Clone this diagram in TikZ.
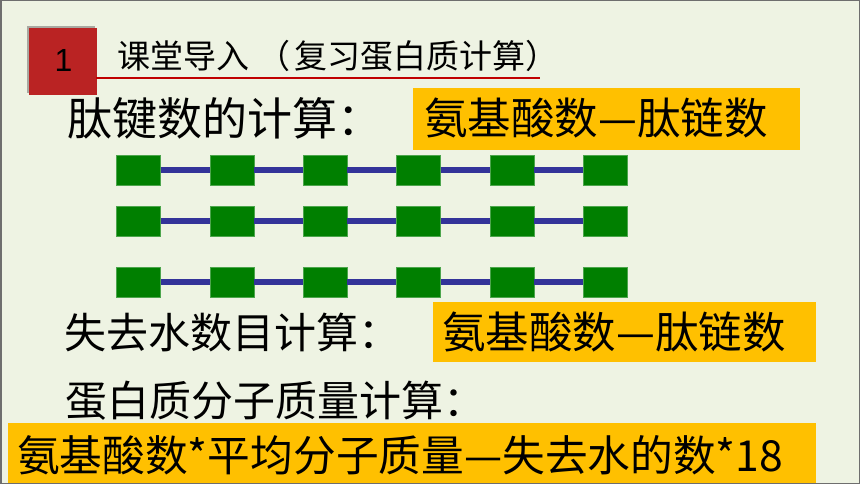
\documentclass[tikz,border=0pt]{standalone}
\usepackage{fontspec}
\setmainfont{Noto Sans CJK SC}
\newfontfamily\latinfont{Liberation Sans}
\definecolor{bgc}{HTML}{EEF3E3}
\definecolor{framec}{HTML}{6E6E6E}
\definecolor{redsq}{HTML}{BA2323}
\definecolor{shadowc}{HTML}{A8A8A0}
\definecolor{uline}{HTML}{C00000}
\definecolor{orangec}{HTML}{FFC000}
\definecolor{greenc}{HTML}{007F00}
\definecolor{bluec}{HTML}{333399}
\tikzset{
  unit/.style={fill=greenc, draw=greenc!70!white, line width=0.4pt, minimum width=44pt, minimum height=30pt, inner sep=0pt},
  bond/.style={draw=bluec, line width=6.5pt},
  orangebox/.style={fill=orangec},
  bodytext/.style={anchor=west, inner sep=0pt, font=\fontsize{42}{46}\selectfont},
  boxtext/.style={anchor=west, inner sep=0pt, font=\fontsize{43.5}{46}\selectfont},
}
\begin{document}
\begin{tikzpicture}[x=1pt,y=-1pt]
\useasboundingbox (0,0) rectangle (860,484);
\fill[bgc] (0,0) rectangle (860,484);
% header
\fill[shadowc] (27,26) rectangle (95,93);
\node[fill=redsq, minimum width=68pt, minimum height=67pt, inner sep=0pt] (num) at (63,61.5) {};
\node[inner sep=0pt, font=\latinfont\fontsize{32}{34}\selectfont] (numtxt) at (63.5,60) {1};
\node[anchor=west, inner sep=0pt, font=\fontsize{33}{36}\selectfont] (title) at (117,56) {课堂导入\hspace{8pt}（\hspace{4pt}复习蛋白质计算）};
\coordinate (ulA) at (96,78);
\coordinate (ulB) at (540,78);
\draw[uline, line width=2.5pt] (ulA) -- (ulB);
% line 1
\node[bodytext, font=\fontsize{45}{50}\selectfont] (l1) at (67,118) {肽键数的计算：};
\node[orangebox, minimum width=387pt, minimum height=62pt, inner sep=0pt] (box1) at (606.5,119) {};
\node[boxtext] (b1) at (424,118) {氨基酸数—肽链数};
% chains
\foreach \r/\yy in {1/170,2/221,3/282}{
  \foreach \i in {0,...,5}{
    \node[unit] (s\r\i) at ({138.5+93.3*\i},\yy) {};
  }
  \foreach \i/\j in {0/1,1/2,2/3,3/4,4/5}{
    \draw[bond] (s\r\i.east) -- (s\r\j.west);
  }
}
% line 2
\node[bodytext] (l2) at (64,332) {失去水数目计算：};
\node[orangebox, minimum width=383pt, minimum height=60pt, inner sep=0pt] (box2) at (624.5,332) {};
\node[boxtext] (b2) at (442,332) {氨基酸数—肽链数};
% line 3
\node[bodytext] (l3) at (65,401) {蛋白质分子质量计算：};
\node[orangebox, minimum width=808pt, minimum height=62pt, inner sep=0pt] (box3) at (412,454) {};
\node[boxtext, font=\fontsize{42.7}{46}\selectfont] (b3) at (17,455) {氨基酸数*平均分子质量—失去水的数*18};
% frame
\draw[framec, line width=1.5pt] (0.75,0.75) rectangle (859.25,483.25);
\end{tikzpicture}
\end{document}
